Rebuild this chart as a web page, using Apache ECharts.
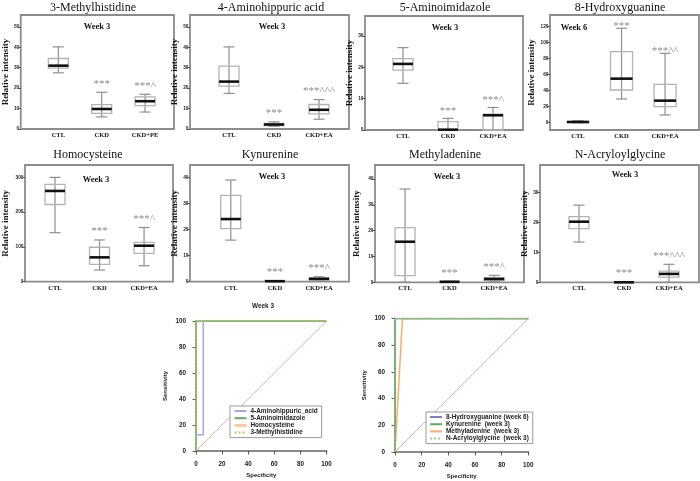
<!DOCTYPE html>
<html><head><meta charset="utf-8">
<script src="https://cdn.jsdelivr.net/npm/echarts@6/dist/echarts.min.js"></script>
<style>html,body{margin:0;padding:0;background:#fff}#c{width:700px;height:481px}</style>
</head><body><div id="c"></div>
<script>
// ================= DATA =================
const groupsPE = ['CTL', 'CKD', 'CKD+PE'];
const groupsEA = ['CTL', 'CKD', 'CKD+EA'];
const groupPositions = [1, 2, 3];

const panelTitles = ['3-Methylhistidine', '4-Aminohippuric acid', '5-Aminoimidazole', '8-Hydroxyguanine',
  'Homocysteine', 'Kynurenine', 'Methyladenine', 'N-Acryloylglycine'];
const weekLabels = ['Week 3', 'Week 3', 'Week 3', 'Week 6', 'Week 3', 'Week 3', 'Week 3', 'Week 3'];
const yAxisName = 'Relative intensity';

// box stats per group: [min, Q1, median, Q3, max]
const methylhistidine = [[27.5, 29.8, 31.0, 34.5, 40.2], [5.9, 7.6, 9.8, 11.9, 18.0], [8.3, 11.4, 13.6, 15.7, 17.0]];
const aminohippuric = [[17.4, 21.0, 23.2, 30.8, 40.2], [1.3, 1.7, 2.2, 2.8, 3.5], [4.8, 7.4, 9.4, 12.0, 14.4]];
const aminoimidazole = [[14.9, 19.1, 21.1, 22.8, 26.3], [0, 0, 0.1, 2.7, 3.7], [0, 0, 4.7, 5.1, 7.2]];
const hydroxyguanine = [[0, 0.3, 0.8, 1.5, 2.5], [29.6, 40.8, 55.0, 88.8, 118.0], [9.6, 20.0, 27.5, 47.9, 86.7]];
const homocysteine = [[141, 222, 261, 280, 300], [33.6, 50, 70, 99, 120], [46, 81.5, 103.5, 113, 156]];
const kynurenine = [[16.0, 20.4, 24.1, 33.2, 39.1], [0, 0.1, 0.2, 0.3, 0.4], [0.3, 0.6, 1.1, 1.5, 1.9]];
const methyladenine = [[0, 2.6, 15.7, 21.2, 36.1], [0, 0.1, 0.2, 0.3, 0.4], [0.4, 0.65, 1.3, 1.7, 2.7]];
const acryloylglycine = [[13.4, 17.9, 20.2, 21.9, 25.7], [0, 0, 0, 0.1, 0.1], [0, 1.7, 2.8, 3.7, 6.0]];

// significance marks
const starsMethylhistidine = ['', '***', '***^'];
const starsAminohippuric = ['', '***', '***^^^'];
const starsAminoimidazole = ['', '***', '***^'];
const starsHydroxyguanine = ['', '***', '***^^'];
const starsHomocysteine = ['', '***', '***^'];
const starsKynurenine = ['', '***', '***^'];
const starsMethyladenine = ['', '***', '***^'];
const starsAcryloylglycine = ['', '***', '***^^^'];

// y tick labels
const ticks0to50 = [0, 10, 20, 30, 40, 50];
const ticks0to30 = [0, 10, 20, 30];
const ticks0to120 = [0, 20, 40, 60, 80, 100, 120];
const ticks0to300 = [0, 100, 200, 300];
const ticks0to40 = [0, 10, 20, 30, 40];

// ROC curves: [specificity axis (%), sensitivity (%)]
const rocDiagonal = [[0, 0], [100, 100]];
const rocAminohippuric = [[0, 0], [0, 12.5], [5.6, 12.5], [5.6, 100], [100, 100]];
const rocAminoimidazole = [[0, 0], [0, 100], [100, 100]];
const rocHomocysteine = [[0, 0], [0, 100], [100, 100]];
const rocMethylhistidine = [[0, 0], [0, 100], [100, 100]];
const rocHydroxyguanine = [[0, 0], [0, 100], [100, 100]];
const rocKynurenine = [[0, 0], [0, 100], [100, 100]];
const rocMethyladenine = [[0, 0], [5.6, 100], [100, 100]];
const rocAcryloylglycine = [[0, 0], [0, 100], [100, 100]];

const rocLeftNames = ['4-Aminohippuric_acid', '5-Aminoimidazole', 'Homocysteine', '3-Methylhistidine'];
const rocRightNames = ['8-Hydroxyguanine (week 6)', 'Kynurenine  (week 3)', 'Methyladenine  (week 3)', 'N-Acryloylglycine  (week 3)'];

// ================= LAYOUT =================
const panels = [
  { box: methylhistidine, stars: starsMethylhistidine, cats: groupsPE, ticks: ticks0to50 },
  { box: aminohippuric, stars: starsAminohippuric, cats: groupsEA, ticks: ticks0to50 },
  { box: aminoimidazole, stars: starsAminoimidazole, cats: groupsEA, ticks: ticks0to30 },
  { box: hydroxyguanine, stars: starsHydroxyguanine, cats: groupsEA, ticks: ticks0to120 },
  { box: homocysteine, stars: starsHomocysteine, cats: groupsEA, ticks: ticks0to300 },
  { box: kynurenine, stars: starsKynurenine, cats: groupsEA, ticks: ticks0to40 },
  { box: methyladenine, stars: starsMethyladenine, cats: groupsEA, ticks: ticks0to40 },
  { box: acryloylglycine, stars: starsAcryloylglycine, cats: groupsEA, ticks: ticks0to30 }
];
const frames = [
  { left: 15, top: 15, width: 159, height: 114, xr: [0.133, 3.667], yr: [0, 55.8], gap: 4.5, t: [93, 8], w: [97, 27], bw: 20, sg: 3 },
  { left: 190, top: 15, width: 159, height: 114, xr: [0.133, 3.667], yr: [0, 55.8], gap: 4, t: [271, 8], w: [272, 27], bw: 20, sg: 3 },
  { left: 365, top: 16, width: 158, height: 114, xr: [0.156, 3.667], yr: [0, 36.4], gap: 3.5, t: [445, 8], w: [445, 28], bw: 20, sg: 2 },
  { left: 550, top: 15, width: 149, height: 115, xr: [0.356, 3.78], yr: [-9.2, 134.6], gap: 14, t: [620, 8], w: [574, 28], bw: 22, sg: -3 },
  { left: 25, top: 165, width: 148, height: 116.7, xr: [0.326, 3.65], yr: [0, 335.6], gap: 14.5, t: [88, 155], w: [96, 180], bw: 20, sg: 3 },
  { left: 190, top: 165, width: 159, height: 116.7, xr: [0.075, 3.68], yr: [0, 44.9], gap: 4, t: [270, 155], w: [272, 177], bw: 20, sg: 3 },
  { left: 375, top: 165, width: 149, height: 117.3, xr: [0.326, 3.67], yr: [0, 45.4], gap: 13.5, t: [445, 155], w: [447, 177], bw: 20, sg: 3 },
  { left: 540, top: 165, width: 159, height: 117.3, xr: [0.133, 3.667], yr: [0, 39.1], gap: 3.5, t: [620, 155], w: [625, 175], bw: 20, sg: 3 }
];

const SERIF = 'Liberation Serif';
const SANS = 'Liberation Sans';

const grids = [], xAxes = [], yAxes = [], series = [], graphics = [];

function makeBoxRenderer(stars, bw, sg) {
  return function (params, api) {
    const x = api.value(0);
    const pMin = api.coord([x, api.value(1)]);
    const pQ1 = api.coord([x, api.value(2)]);
    const pMed = api.coord([x, api.value(3)]);
    const pQ3 = api.coord([x, api.value(4)]);
    const pMax = api.coord([x, api.value(5)]);
    const cx = pMed[0];
    const cw = 11;
    const grey = '#8f8f8f';
    const children = [
      { type: 'line', shape: { x1: cx, y1: pMin[1], x2: cx, y2: pMax[1] }, style: { stroke: grey, lineWidth: 1.2 } },
      { type: 'line', shape: { x1: cx - cw / 2, y1: pMax[1], x2: cx + cw / 2, y2: pMax[1] }, style: { stroke: grey, lineWidth: 1.2 } },
      { type: 'line', shape: { x1: cx - cw / 2, y1: pMin[1], x2: cx + cw / 2, y2: pMin[1] }, style: { stroke: grey, lineWidth: 1.2 } },
      { type: 'rect', shape: { x: cx - bw / 2, y: pQ3[1], width: bw, height: pQ1[1] - pQ3[1] }, style: { fill: 'none', stroke: '#b3b3b3', lineWidth: 1.3 } },
      { type: 'line', shape: { x1: cx - bw / 2, y1: pMed[1], x2: cx + bw / 2, y2: pMed[1] }, style: { stroke: '#111', lineWidth: 2.6 } }
    ];
    const s = stars[params.dataIndex];
    if (s) {
      children.push({
        type: 'text', x: cx, y: pMax[1] - sg,
        style: { text: s, align: 'center', verticalAlign: 'bottom', textAlign: 'center', textVerticalAlign: 'bottom',
          fill: '#8a8a8a', fontSize: 11, fontFamily: SERIF }
      });
    }
    return { type: 'group', children };
  };
}

panels.forEach((p, i) => {
  const f = frames[i];
  grids.push({ left: f.left, top: f.top, width: f.width, height: f.height, show: true,
    borderColor: '#8c8c8c', borderWidth: 1.8, backgroundColor: 'transparent' });
  xAxes.push({
    type: 'value', gridIndex: i, min: f.xr[0], max: f.xr[1],
    axisLine: { show: false }, axisTick: { show: false }, splitLine: { show: false },
    axisLabel: { customValues: groupPositions, formatter: v => p.cats[Math.round(v) - 1] || '',
      fontFamily: SERIF, fontWeight: 'bold', fontSize: 6.5, color: '#111', margin: 3 }
  });
  yAxes.push({
    type: 'value', gridIndex: i, min: f.yr[0], max: f.yr[1],
    name: yAxisName, nameLocation: 'middle', nameGap: f.gap, nameRotate: 90,
    nameTextStyle: { fontFamily: SERIF, fontWeight: 'bold', fontSize: 9, color: '#111' },
    axisLine: { show: false }, splitLine: { show: false },
    axisTick: { show: true, customValues: p.ticks, length: 2.5, lineStyle: { color: '#333', width: 0.8 } },
    axisLabel: { customValues: p.ticks, fontFamily: SANS, fontWeight: 'bold', fontSize: 4.8, color: '#222', margin: 1.5 }
  });
  series.push({
    type: 'custom', xAxisIndex: i, yAxisIndex: i, clip: false,
    renderItem: makeBoxRenderer(p.stars, f.bw, f.sg),
    encode: { x: 0, y: [1, 2, 3, 4, 5] },
    data: p.box.map((b, k) => [groupPositions[k]].concat(b))
  });
  graphics.push({ type: 'text', x: f.t[0], y: f.t[1],
    style: { text: panelTitles[i], align: 'center', verticalAlign: 'middle', textAlign: 'center', textVerticalAlign: 'middle',
      fontFamily: SERIF, fontSize: 12, fill: '#111' } });
  graphics.push({ type: 'text', x: f.w[0], y: f.w[1],
    style: { text: weekLabels[i], align: 'center', verticalAlign: 'middle', textAlign: 'center', textVerticalAlign: 'middle',
      fontFamily: SERIF, fontWeight: 'bold', fontSize: 8.5, fill: '#111' } });
});

// ROC grids
const rocFrames = [
  { left: 196, top: 321, width: 130.5, height: 130 },
  { left: 395, top: 318.5, width: 133.3, height: 133.5 }
];
rocFrames.forEach((f, j) => {
  const gi = 8 + j;
  grids.push({ left: f.left, top: f.top, width: f.width, height: f.height, show: false });
  const common = {
    type: 'value', gridIndex: gi, min: 0, max: 100, interval: 20, splitLine: { show: false },
    axisLine: { show: true, lineStyle: { color: '#8a8a8a', width: 2 } },
    axisTick: { show: true, length: 3.5, lineStyle: { color: '#333', width: 0.8 } },
    axisLabel: { fontFamily: SANS, fontWeight: 'bold', fontSize: 6.3, color: '#222', margin: 6 },
    nameLocation: 'middle', nameTextStyle: { fontFamily: SANS, fontWeight: 'bold', fontSize: 6, color: '#222' }
  };
  xAxes.push(Object.assign({}, common, { name: 'Specificity', nameGap: 17, offset: 4 }));
  yAxes.push(Object.assign({}, common, { name: 'Sensitivity', nameGap: 24, offset: 4 }));
});

function rocLine(name, data, gi, color, width, type, z) {
  return { type: 'line', name, data, xAxisIndex: gi, yAxisIndex: gi, symbol: 'none', showSymbol: false, z: z || 2,
    lineStyle: { color, width, type: type || 'solid', opacity: 1 }, itemStyle: { color, opacity: 0 }, silent: true };
}
const diagColor = '#e6aaaa';
series.push(rocLine(rocLeftNames[0], rocAminohippuric, 8, '#a6a6e8', 1.5));
series.push(rocLine(rocLeftNames[2], rocHomocysteine, 8, '#ffc99c', 1.5));
series.push(rocLine(rocLeftNames[1], rocAminoimidazole, 8, '#5fae5a', 1.5));
series.push(rocLine(rocLeftNames[3], rocMethylhistidine, 8, '#b8cf68', 1.2, 'dotted'));
series.push(rocLine('reference line A', rocDiagonal, 8, diagColor, 1, 'solid', 1));

series.push(rocLine(rocRightNames[0], rocHydroxyguanine, 9, '#8a7cc0', 1.5));
series.push(rocLine(rocRightNames[2], rocMethyladenine, 9, '#ffaa66', 1.5));
series.push(rocLine(rocRightNames[1], rocKynurenine, 9, '#5fae5a', 1.5));
series.push(rocLine(rocRightNames[3], rocAcryloylglycine, 9, '#a9cf9b', 1.2, 'dotted'));
series.push(rocLine('reference line B', rocDiagonal, 9, diagColor, 1, 'solid', 1));

graphics.push({ type: 'text', x: 263, y: 306,
  style: { text: 'Week 3', align: 'center', verticalAlign: 'middle', textAlign: 'center', textVerticalAlign: 'middle',
    fontFamily: SANS, fontWeight: 'bold', fontSize: 6.4, fill: '#222' } });

const legendCommon = {
  orient: 'vertical', itemWidth: 12, itemHeight: 6, itemGap: 1.2, padding: [2, 4, 2, 3],
  borderColor: '#999', borderWidth: 1, backgroundColor: '#fff', selectedMode: false,
  itemStyle: { opacity: 0 },
  textStyle: { fontFamily: SANS, fontWeight: 'bold', fontSize: 6.4, color: '#222', padding: [0, 0, 0, -1] }
};
const leftLegendData = rocLeftNames.map(n => n === 'Homocysteine' ? { name: n, lineStyle: { width: 3 } } : { name: n, lineStyle: { width: 2 } });
const rightLegendData = rocRightNames.map(n => ({ name: n, lineStyle: { width: 2 } }));

const option = {
  animation: false,
  backgroundColor: '#fff',
  grid: grids, xAxis: xAxes, yAxis: yAxes, series: series,
  legend: [
    Object.assign({}, legendCommon, { data: leftLegendData, left: 230, top: 406 }),
    Object.assign({}, legendCommon, { data: rightLegendData, left: 426, top: 412 })
  ],
  graphic: graphics
};

const chart = echarts.init(document.getElementById('c'), null, { renderer: 'canvas' });
chart.setOption(option);
</script>
</body></html>
